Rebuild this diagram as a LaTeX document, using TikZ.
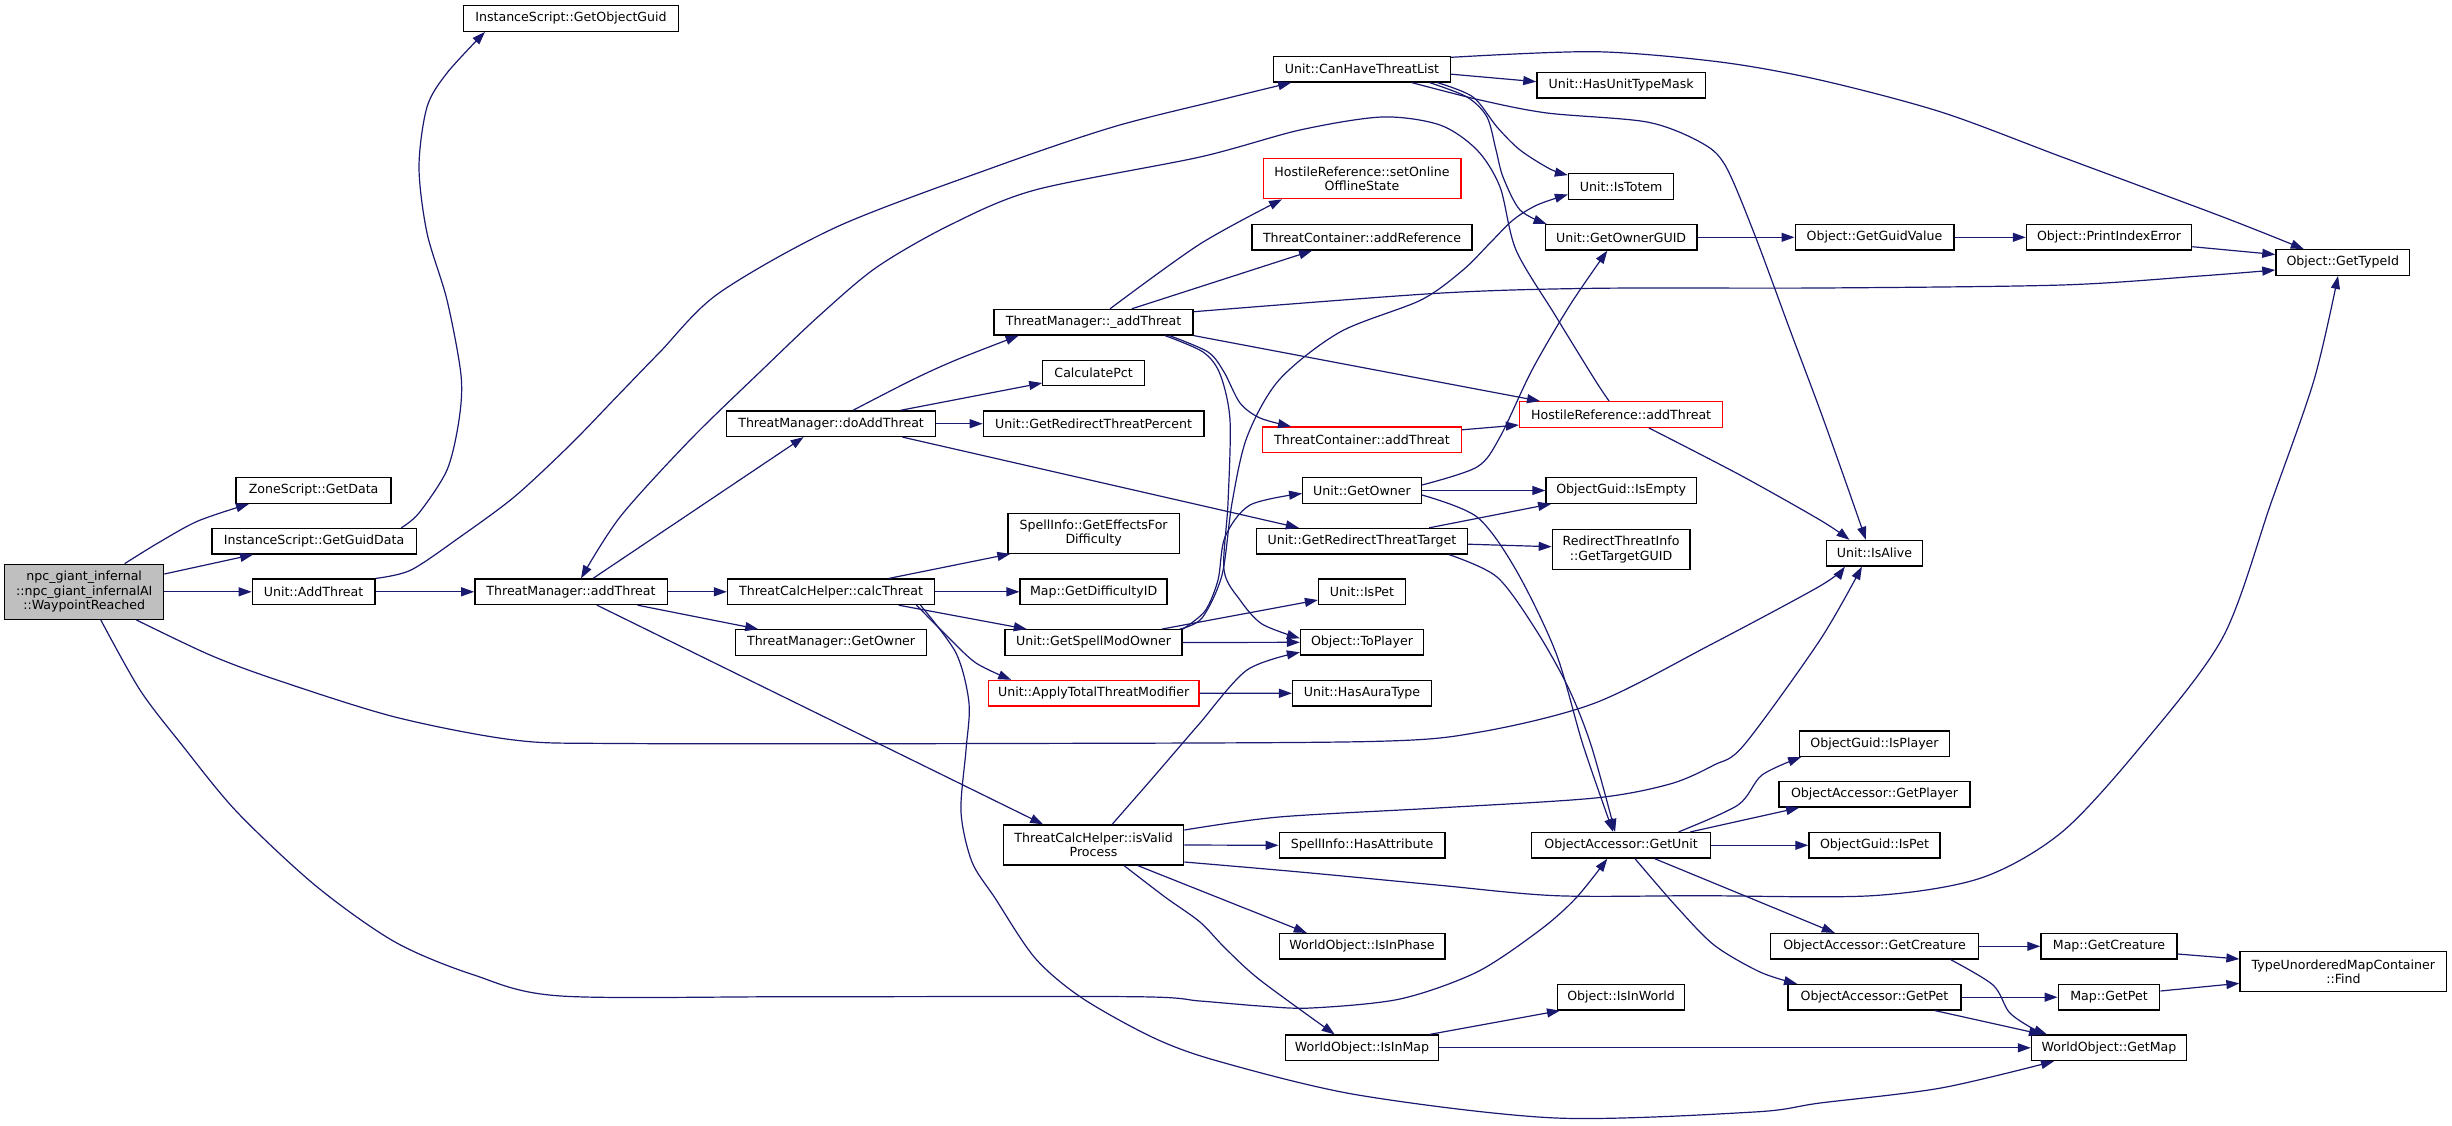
\documentclass[tikz,border=0pt]{standalone}
\usepackage{fontspec}
\setmainfont{DejaVu Sans}
\usetikzlibrary{arrows.meta}
\definecolor{edgeblue}{HTML}{191970}
\definecolor{rootgray}{HTML}{BFBFBF}
\tikzset{
  nd/.style={draw=black, line width=1.3pt, fill=white, inner sep=0pt, minimum height=25.5pt,
             align=center, font=\fontsize{12.6}{14.5}\selectfont, text=black},
  twol/.style={minimum height=40pt},
  rednd/.style={nd, draw=red},
  rootnd/.style={nd, fill=rootgray, minimum height=55pt},
  ed/.style={draw=edgeblue, line width=1.2pt, -{Triangle[length=13pt,width=9pt]}},
  sm/.style={smooth, tension=0.5},
}
\begin{document}
\begin{tikzpicture}[x=1pt,y=-1pt]
\useasboundingbox (0,0) rectangle (2452,1125);
% ---------------- nodes ----------------
\node[rootnd, minimum width=159pt] (root) at (84.2,591.8) {npc\_giant\_infernal\\::npc\_giant\_infernalAI\\::WaypointReached};
\node[nd, minimum width=155pt] (zone) at (313.6,490.5) {ZoneScript::GetData};
\node[nd, minimum width=204.4pt] (igguid) at (314.1,541.2) {InstanceScript::GetGuidData};
\node[nd, minimum width=122.6pt] (uadd) at (313.6,591.8) {Unit::AddThreat};
\node[nd, minimum width=214.5pt] (iogguid) at (571,18.5) {InstanceScript::GetObjectGuid};
\node[nd, minimum width=192.3pt] (tmadd) at (571,591.8) {ThreatManager::addThreat};
\node[nd, minimum width=209.2pt] (tmdo) at (831.1,423.7) {ThreatManager::doAddThreat};
\node[nd, minimum width=207.2pt] (tmcalc) at (831.1,591.8) {ThreatCalcHelper::calcThreat};
\node[nd, minimum width=191pt] (tmowner) at (831.1,642.5) {ThreatManager::GetOwner};
\node[nd, minimum width=199pt] (tmpriv) at (1093.6,322.2) {ThreatManager::\_addThreat};
\node[nd, minimum width=101.6pt] (calcpct) at (1093.6,373) {CalculatePct};
\node[nd, minimum width=220.6pt] (redirpct) at (1093.6,423.7) {Unit::GetRedirectThreatPercent};
\node[nd, twol, minimum width=171.2pt] (effects) at (1093.6,533.2) {SpellInfo::GetEffectsFor\\Difficulty};
\node[nd, minimum width=147pt] (diffid) at (1093.6,591.8) {Map::GetDifficultyID};
\node[nd, minimum width=177pt] (spellmod) at (1093.6,642.5) {Unit::GetSpellModOwner};
\node[rednd, minimum width=210.7pt] (applytot) at (1093.6,693.2) {Unit::ApplyTotalThreatModifier};
\node[nd, twol, minimum width=180.3pt] (isvalid) at (1093.6,845) {ThreatCalcHelper::isValid\\Process};
\node[nd, minimum width=177.1pt] (canhave) at (1362,69.2) {Unit::CanHaveThreatList};
\node[rednd, twol, minimum width=197.7pt] (setonline) at (1362,178.7) {HostileReference::setOnline\\OfflineState};
\node[nd, minimum width=220.2pt] (addref) at (1362,237.3) {ThreatContainer::addReference};
\node[rednd, minimum width=199pt] (tcadd) at (1362,439.8) {ThreatContainer::addThreat};
\node[nd, minimum width=118.6pt] (uowner) at (1362,490.5) {Unit::GetOwner};
\node[nd, minimum width=210.4pt] (redirtgt) at (1362,541.2) {Unit::GetRedirectThreatTarget};
\node[nd, minimum width=87pt] (ispet) at (1362,591.7) {Unit::IsPet};
\node[nd, minimum width=123pt] (toplayer) at (1362,642.3) {Object::ToPlayer};
\node[nd, minimum width=138.8pt] (hasaura) at (1362,693.3) {Unit::HasAuraType};
\node[nd, minimum width=165.7pt] (hasattr) at (1362,845.3) {SpellInfo::HasAttribute};
\node[nd, minimum width=165.7pt] (inphase) at (1362,946.3) {WorldObject::IsInPhase};
\node[nd, minimum width=153.4pt] (inmap) at (1362,1047.8) {WorldObject::IsInMap};
\node[nd, minimum width=168.4pt] (hasmask) at (1621.1,85.2) {Unit::HasUnitTypeMask};
\node[nd, minimum width=105.2pt] (istotem) at (1621.1,186.5) {Unit::IsTotem};
\node[nd, minimum width=151.8pt] (ownerguid) at (1621.1,237.3) {Unit::GetOwnerGUID};
\node[rednd, minimum width=203.2pt] (hradd) at (1621.1,414.5) {HostileReference::addThreat};
\node[nd, minimum width=150.2pt] (isempty) at (1621.1,490.5) {ObjectGuid::IsEmpty};
\node[nd, twol, minimum width=137.6pt] (tgtguid) at (1621.1,549.3) {RedirectThreatInfo\\::GetTargetGUID};
\node[nd, minimum width=178.8pt] (getunit) at (1621.1,845.3) {ObjectAccessor::GetUnit};
\node[nd, minimum width=127pt] (inworld) at (1621.1,997.2) {Object::IsInWorld};
\node[nd, minimum width=158.7pt] (guidval) at (1874.5,237.3) {Object::GetGuidValue};
\node[nd, minimum width=96.4pt] (isalive) at (1874.5,553.2) {Unit::IsAlive};
\node[nd, minimum width=149.6pt] (isplayer) at (1874.5,743.7) {ObjectGuid::IsPlayer};
\node[nd, minimum width=191pt] (getplayer) at (1874.5,794.3) {ObjectAccessor::GetPlayer};
\node[nd, minimum width=131.2pt] (guidpet) at (1874.5,845.3) {ObjectGuid::IsPet};
\node[nd, minimum width=208.2pt] (oacreat) at (1874.5,946.3) {ObjectAccessor::GetCreature};
\node[nd, minimum width=173pt] (oapet) at (1874.5,997.2) {ObjectAccessor::GetPet};
\node[nd, minimum width=165.2pt] (printerr) at (2109,237.3) {Object::PrintIndexError};
\node[nd, minimum width=136.2pt] (mapcreat) at (2109,946.3) {Map::GetCreature};
\node[nd, minimum width=101.6pt] (mappet) at (2109,997.2) {Map::GetPet};
\node[nd, minimum width=155.2pt] (getmap) at (2109,1047.8) {WorldObject::GetMap};
\node[nd, minimum width=133.8pt] (typeid) at (2342.8,262.5) {Object::GetTypeId};
\node[nd, twol, minimum width=206.8pt] (find) at (2343.4,971.7) {TypeUnorderedMapContainer\\::Find};
% ---------------- edges ----------------
% root
\draw[ed] plot[sm] coordinates {([xshift=40.4pt]root.north) (158,543) (198,521) ([xshift=-64.6pt]zone.south)};
\draw[ed] ([yshift=17.8pt]root.east) -- ([xshift=-61pt]igguid.south);
\draw[ed] (root.east) -- (uadd.west);
\draw[ed] plot[sm] coordinates {([xshift=52.2pt]root.south) (210,655) (277,680) (395,717) (514,740) (620,743.5) (1000,743.5) (1370,741.5) (1480,732) (1595,703) (1710,645) (1820,586) ([xshift=-29.6pt]isalive.south)};
\draw[ed] plot[sm] coordinates {([xshift=16.6pt]root.south) (140,690) (182,745) (237,812) (316,886) (395,942) (474,975) (561,996) (800,996.7) (1134,996.7) (1200,1001) (1260,1006) (1311,1008) (1400,999) (1477,972) (1540,930) (1576,898) ([xshift=-13.8pt]getunit.south)};
% InstanceScript
\draw[ed] plot[sm] coordinates {([xshift=87.2pt]igguid.north) (419,513) (447,470) (459,420) (461,375) (447,300) (427,233) (419,167) (427,107) (447,73) ([xshift=-86pt]iogguid.south)};
% Unit::AddThreat
\draw[ed] (uadd.east) -- (tmadd.west);
\draw[ed] plot[sm] coordinates {(uadd.north east) (411,570) (460,537) (514.5,496.7) (570,445) (620,393.3) (660,352) (718.6,293.3) (837.2,226.7) (995.4,166.7) (1114,126.7) (1220,100) ([xshift=-70.8pt]canhave.south)};
% ThreatManager::addThreat
\draw[ed] ([xshift=22pt]tmadd.north) -- ([xshift=-27.5pt]tmdo.south);
\draw[ed] (tmadd.east) -- (tmcalc.west);
\draw[ed] ([xshift=66.6pt]tmadd.south) -- ([xshift=-72.9pt]tmowner.north);
\draw[ed] ([xshift=26pt]tmadd.south) -- ([xshift=-50.5pt]isvalid.north);
% HostileReference::addThreat
\draw[ed] plot[sm] coordinates {([xshift=-12pt]hradd.north) (1595,380) (1555,315) (1516,250) (1500,187) (1477,150) (1440,125) (1382,117) (1300,130) (1200,157) (1035,190) (950,225) (877,267) (820,315) (762,370) (690,440) (620,517) ([xshift=10pt]tmadd.north)};
\draw[ed] plot[sm] coordinates {([xshift=27.7pt]hradd.south) (1740,475) (1820,520) ([xshift=-25pt]isalive.north)};
% doAddThreat
\draw[ed] plot[sm] coordinates {([xshift=21.9pt]tmdo.north) (912,380) (956,360) ([xshift=-75pt]tmpriv.south)};
\draw[ed] ([xshift=69.4pt]tmdo.north) -- ([yshift=-10pt]calcpct.west);
\draw[ed] (tmdo.east) -- (redirpct.west);
\draw[ed] ([xshift=71.4pt]tmdo.south) -- ([xshift=-63.2pt]redirtgt.north);
% _addThreat
\draw[ed] plot[sm] coordinates {([xshift=16.4pt]tmpriv.north) (1200,244) ([xshift=-80pt]setonline.south)};
\draw[ed] ([xshift=38.2pt]tmpriv.north) -- ([xshift=-50pt]addref.south);
\draw[ed] plot[sm] coordinates {([yshift=10.5pt]tmpriv.east) (1437,293.3) (1595,288.3) (1820,288) (2062,285) (2200,276) ([yshift=-7.5pt]typeid.west)};
\draw[ed] (tmpriv.south east) -- ([xshift=-81.1pt]hradd.north);
\draw[ed] plot[sm] coordinates {([xshift=75.8pt]tmpriv.south) (1208,352) (1224,372) (1240,403) (1260,418) ([xshift=-71pt]tcadd.north)};
\draw[ed] plot[sm] coordinates {([xshift=71.4pt]tmpriv.south) (1203,352) (1220,374) (1230,420) (1228,503) (1224,570) (1240,600) (1262,624) ([yshift=4pt]toplayer.west)};
\draw[ed] ([yshift=10pt]tcadd.east) -- ([yshift=-10.5pt]hradd.west);
% CanHaveThreatList
\draw[ed] ([yshift=-5pt]canhave.east) -- ([yshift=3.5pt]hasmask.west);
\draw[ed] plot[sm] coordinates {([xshift=75.4pt]canhave.south) (1473,97) (1497,127) (1520,150) (1550,169) ([yshift=-2pt]istotem.north west)};
\draw[ed] plot[sm] coordinates {([xshift=67.5pt]canhave.south) (1467,97) (1487,117) (1496,150) (1503,177) (1520,210) ([xshift=2pt]ownerguid.north west)};
\draw[ed] plot[sm] coordinates {([xshift=49.7pt]canhave.south) (1480,100) (1547,113) (1647,122) (1700,142) (1725,165) (1754,233) (1790,330) (1820,410) (1845,480) ([xshift=-8.6pt]isalive.north)};
\draw[ed] plot[sm] coordinates {([yshift=11.9pt]canhave.east) (1595,51.7) (1720,62) (1820,80) (1941,112) (2062,157) (2223,217) ([xshift=-39pt]typeid.north)};
% GUID chain
\draw[ed] (ownerguid.east) -- (guidval.west);
\draw[ed] (guidval.east) -- (printerr.west);
\draw[ed] ([yshift=-9.4pt]printerr.east) -- ([yshift=8pt]typeid.west);
% Unit::GetOwner
\draw[ed] (uowner.east) -- (isempty.west);
\draw[ed] plot[sm] coordinates {([yshift=5.5pt]uowner.east) (1477,467) (1500,437) (1532,370) (1570,305) ([xshift=-13.8pt]ownerguid.south)};
\draw[ed] plot[sm] coordinates {([yshift=-4.5pt]uowner.east) (1477,517) (1516,570) (1556,653) (1583,745) ([xshift=-8pt]getunit.north)};
% GetRedirectThreatTarget
\draw[ed] plot[sm] coordinates {([xshift=86.9pt]redirtgt.south) (1497,577) (1536,630) (1568,687) (1591,745) ([xshift=-6pt]getunit.north)};
\draw[ed] ([xshift=67.2pt]redirtgt.north) -- ([xshift=-70pt]isempty.south);
\draw[ed] ([yshift=-3pt]redirtgt.east) -- ([yshift=2.6pt]tgtguid.west);
% GetSpellModOwner
\draw[ed] plot[sm] coordinates {(spellmod.north east) (1205,611) (1218,580) (1225,537) (1250,505) ([yshift=-3pt]uowner.west)};
\draw[ed] plot[sm] coordinates {([xshift=-3pt]spellmod.north east) (1202,618) (1222,575) (1232,503) (1247,437) (1279,380) (1340,332) (1421,300) (1463,270) (1490,243) (1513,220) (1537,205) ([yshift=-8pt]istotem.west)};
\draw[ed] ([xshift=-21pt]spellmod.north east) -- ([yshift=-8.3pt]ispet.west);
\draw[ed] (spellmod.east) -- (toplayer.west);
% calcThreat
\draw[ed] ([xshift=57.7pt]tmcalc.north) -- ([xshift=3pt]effects.south west);
\draw[ed] (tmcalc.east) -- (diffid.west);
\draw[ed] ([xshift=67.6pt]tmcalc.south) -- ([xshift=-66.8pt]spellmod.north);
\draw[ed] plot[sm] coordinates {([xshift=85.4pt]tmcalc.south) (948,637) (976,663) ([xshift=-82.4pt]applytot.north)};
\draw[ed] plot[sm] coordinates {([xshift=89.4pt]tmcalc.south) (956,653) (969,703) (966,750) (961,812) (972,862) (995,898) (1035,958) (1082,998) (1154,1038) (1220,1061.7) (1358,1095) (1556,1118) (1754,1112) (1820,1103) (1941,1088) ([xshift=-55pt]getmap.south)};
\draw[ed] (applytot.east) -- (hasaura.west);
% isValidProcess
\draw[ed] plot[sm] coordinates {([xshift=18.5pt]isvalid.north) (1150,781) (1181,745) (1200,723) (1247,670) ([yshift=-10pt]toplayer.west)};
\draw[ed] plot[sm] coordinates {([yshift=15pt]isvalid.east) (1279,817) (1437,808) (1595,798) (1670,784) (1714,765) (1744,745) (1820,640) ([xshift=-12.6pt]isalive.south)};
\draw[ed] (isvalid.east) -- (hasattr.west);
\draw[ed] plot[sm] coordinates {([yshift=-17pt]isvalid.east) (1300,872) (1437,885) (1556,895.7) (1700,895.7) (1872,895.7) (1981,878) (2062,832) (2142,745) (2223,637) (2271,503) (2314,380) ([xshift=-4.8pt]typeid.south)};
\draw[ed] ([xshift=44.3pt]isvalid.south) -- ([xshift=-55.2pt]inphase.north);
\draw[ed] plot[sm] coordinates {([xshift=30.5pt]isvalid.south) (1165,897) (1200,922) (1225,948) (1260,980) ([xshift=-27.3pt]inmap.north)};
% IsInMap
\draw[ed] ([xshift=67.6pt]inmap.north) -- ([xshift=3pt]inworld.south west);
\draw[ed] (inmap.east) -- (getmap.west);
% GetUnit
\draw[ed] plot[sm] coordinates {([xshift=57.4pt]getunit.north) (1738,805) (1762,775) ([xshift=2pt]isplayer.south west)};
\draw[ed] ([xshift=69.2pt]getunit.north) -- ([xshift=-75.4pt]getplayer.south);
\draw[ed] (getunit.east) -- (guidpet.west);
\draw[ed] ([xshift=33.6pt]getunit.south) -- ([xshift=-39.7pt]oacreat.north);
\draw[ed] plot[sm] coordinates {([xshift=13.9pt]getunit.south) (1675,905) (1714,945) (1760,972) ([xshift=-77.5pt]oapet.north)};
% accessors
\draw[ed] (oacreat.east) -- (mapcreat.west);
\draw[ed] plot[sm] coordinates {([xshift=76.3pt]oacreat.south) (1993,985) (2009,1012) (2030,1027) ([xshift=-62pt]getmap.north)};
\draw[ed] (oapet.east) -- (mappet.west);
\draw[ed] ([xshift=60.4pt]oapet.south) -- ([xshift=-67pt]getmap.north);
\draw[ed] ([yshift=-7.7pt]mapcreat.east) -- ([yshift=12.7pt]find.west);
\draw[ed] ([yshift=6.2pt]mappet.east) -- ([yshift=-11.6pt]find.west);
\end{tikzpicture}
\end{document}
